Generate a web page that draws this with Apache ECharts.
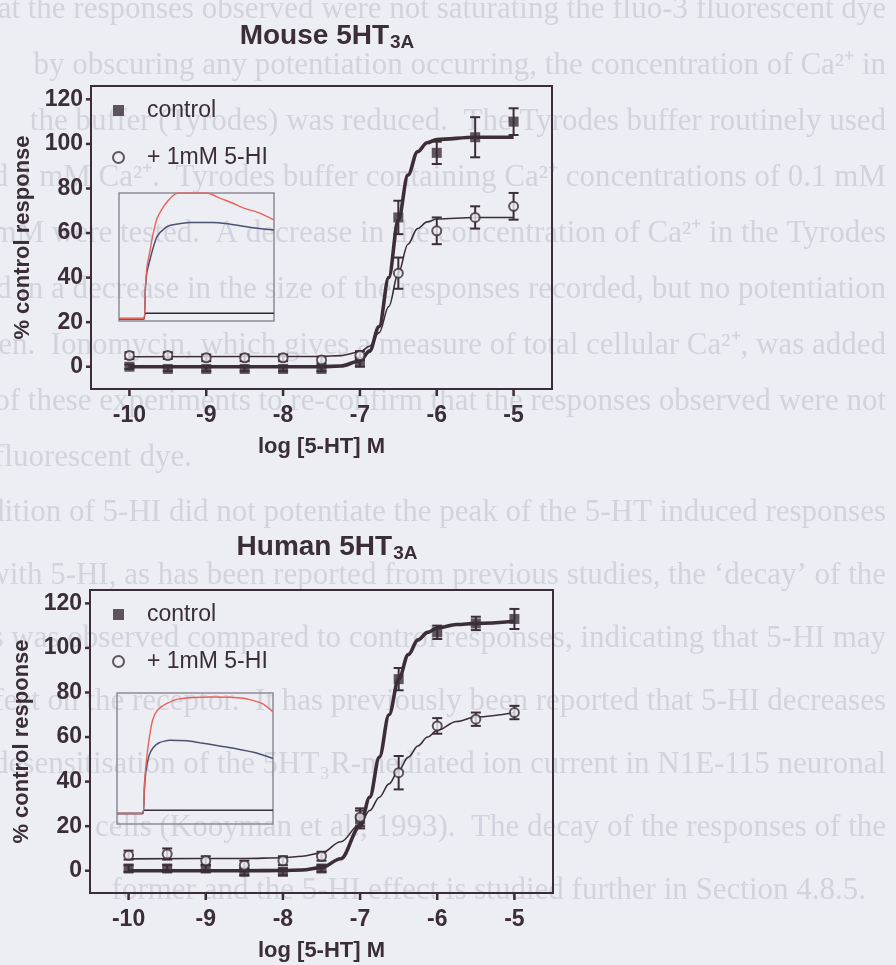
<!DOCTYPE html>
<html><head><meta charset="utf-8">
<script src="https://cdn.jsdelivr.net/npm/echarts@6/dist/echarts.min.js"></script>
<style>html,body{margin:0;padding:0;background:#ededf4;} #c{width:896px;height:965px;}</style>
</head><body><div id="c"></div><script>
// ---------- data ----------
const doses = [-10, -9.5, -9, -8.5, -8, -7.5, -7, -6.5, -6, -5.5, -5];
const xTicks = [-10, -9, -8, -7, -6, -5];
const yTicks = [0, 20, 40, 60, 80, 100, 120];
const seriesNames = ['control', '+ 1mM 5-HI'];

const mouseControl    = [0, -1, -1, -1, -1, -1, 2, 67, 96, 103, 110];
const mouseControlErr = [1, 1, 1, 1, 1, 1, 2, 7.5, 5, 9, 6];
const mouseHI         = [5, 5, 4, 4, 4, 3, 5, 42, 61, 67, 72];
const mouseHIErr      = [1.5, 1.5, 1.5, 1.5, 1.5, 1.5, 2, 7, 6, 5, 6];

const humanControl    = [1, 1, 1, -0.5, -0.5, 1, 23, 86, 107, 111, 113];
const humanControlErr = [1.5, 1.5, 1.5, 1.5, 1.5, 1.5, 4, 5, 3, 3, 4.5];
const humanHI         = [7, 7.5, 4.5, 2.5, 4.5, 6.5, 24, 44, 65, 68, 71];
const humanHIErr      = [2, 2.5, 2, 2, 2, 2, 4, 7.5, 3.5, 3, 3];

// fitted curves
const mouseCurveX       = [-10, -7.5, -7.25, -7, -6.875, -6.75, -6.625, -6.5, -6.375, -6.25, -6.125, -6, -5.5, -5];
const mouseControlCurve = [0, 0, 0.3, 2.6, 7, 18, 40, 66, 86, 96.5, 100.5, 102, 103, 103];
const mouseHICurve      = [4.5, 4.6, 5, 6.6, 9.2, 15.3, 27, 42, 55, 62, 65, 66.3, 67, 67];
const humanCurveX       = [-10, -8.5, -8, -7.75, -7.5, -7.25, -7, -6.875, -6.75, -6.625, -6.5, -6.375, -6.25, -6.125, -6, -5.75, -5.5, -5];
const humanControlCurve = [0, 0, 0.1, 0.3, 1.4, 5.4, 20, 33, 51, 70, 86, 97, 103.6, 107, 109, 110.5, 111, 112];
const humanHICurve      = [5.3, 5.5, 5.8, 6.5, 8, 13, 21, 27, 33, 39, 45, 51, 56, 60, 63, 67, 69, 71];

// inset traces (time in % of window, response in % of inset height)
const mouseRedT   = [0, 16, 17, 18, 20, 22, 24.5, 28, 31.6, 35, 38, 57, 65, 73.5, 81, 89, 95, 100];
const mouseRed    = [2, 2, 25, 42, 55, 68, 80, 88, 94, 98, 100, 100, 96, 92, 88, 85, 82, 79];
const mouseBlueT  = [0, 16, 17, 18, 20, 22, 24.5, 30, 34, 46, 60, 70, 83, 92, 100];
const mouseBlue   = [2, 2, 25, 38, 48, 57, 66, 73, 75, 77, 77, 76, 73.5, 72, 71];
const mouseFlatT  = [0, 16, 17, 100];
const mouseFlat   = [1.5, 1.5, 6, 6];
const humanRedT   = [0, 16.5, 17.5, 19, 21, 23, 26, 32, 40, 60, 81, 93, 100];
const humanRed    = [8, 8, 30, 50, 68, 80, 87, 92, 95.5, 97, 96, 92, 85.5];
const humanBlueT  = [0, 16.5, 17.5, 18.5, 20.5, 23, 27, 34, 45, 53, 64, 74, 90, 100];
const humanBlue   = [8, 8, 25, 40, 52, 58, 62, 64, 63.5, 62, 60, 58, 54, 50];
const humanFlatT  = [0, 16.5, 17, 100];
const humanFlat   = [8, 8, 10.5, 10.5];

// faint page text behind the figure (scanned thesis page)
const pageTextTop = [
  'that the responses observed were not saturating the fluo-3 fluorescent dye',
  'by obscuring any potentiation occurring, the concentration of Ca\u00B2\u207A in',
  'the buffer (Tyrodes) was reduced.  The Tyrodes buffer routinely used',
  'contained 2 mM Ca\u00B2\u207A.  Tyrodes buffer containing Ca\u00B2\u207A concentrations of 0.1 mM',
  'and 1 mM were tested.  A decrease in the concentration of Ca\u00B2\u207A in the Tyrodes',
  'resulted in a decrease in the size of the responses recorded, but no potentiation',
  'was seen.  Ionomycin, which gives a measure of total cellular Ca\u00B2\u207A, was added',
  'at the end of these experiments to re-confirm that the responses observed were not',
];
const pageTextTopLast = 'fluorescent dye.';
const pageTextBottom = [
  'The addition of 5-HI did not potentiate the peak of the 5-HT induced responses',
  'However, with 5-HI, as has been reported from previous studies, the \u2018decay\u2019 of the',
  'responses was observed compared to control responses, indicating that 5-HI may',
  'have an effect on the receptor.  It has previously been reported that 5-HI decreases',
  'the rate of desensitisation of the 5HT\u2083R-mediated ion current in N1E-115 neuronal',
  'cells (Kooyman et al., 1993).  The decay of the responses of the',
  'former and the 5-HI effect is studied further in Section 4.8.5.'
];

// ---------- styling ----------
const INK = '#3b2e37';
const BG = '#ededf4';
const PAGE_INK = '#d3d3dd';
const FONT = '"Liberation Sans", Arial, sans-serif';
const PAGE_FONT = '31px "Liberation Serif", "Times New Roman", serif';
const X_MIN = -10.5, X_MAX = -4.5, Y_MIN = -10, Y_MAX = 126;

const chart = echarts.init(document.getElementById('c'), null, {renderer: 'canvas'});

function pairs(xs, ys) { return xs.map((x, i) => [x, ys[i]]); }
function errData(xs, ys, es) { return xs.map((x, i) => [x, ys[i] - es[i], ys[i] + es[i]]); }

function errSeries(idx, ys, es) {
  return {
    type: 'custom', name: 'err', xAxisIndex: idx, yAxisIndex: idx, z: 3,
    data: errData(doses, ys, es),
    encode: {x: 0, y: [1, 2]},
    renderItem: function (params, api) {
      const x = api.value(0);
      const p1 = api.coord([x, api.value(1)]);
      const p2 = api.coord([x, api.value(2)]);
      const w = 5;
      const st = {stroke: INK, lineWidth: 2};
      return {type: 'group', children: [
        {type: 'line', shape: {x1: p1[0], y1: p1[1], x2: p2[0], y2: p2[1]}, style: st},
        {type: 'line', shape: {x1: p1[0] - w, y1: p1[1], x2: p1[0] + w, y2: p1[1]}, style: st},
        {type: 'line', shape: {x1: p2[0] - w, y1: p2[1], x2: p2[0] + w, y2: p2[1]}, style: st}
      ]};
    }
  };
}
// axis tick marks, placed through the axis scales
function xTickSeries(idx) {
  return {type: 'custom', name: 'xticks', xAxisIndex: idx, yAxisIndex: idx, z: 5, silent: true, clip: false,
    data: xTicks.map(v => [v, Y_MIN]), encode: {x: 0, y: 1},
    renderItem: function (params, api) {
      const p = api.coord([api.value(0), Y_MIN]);
      return {type: 'line', shape: {x1: p[0], y1: p[1], x2: p[0], y2: p[1] + 7}, style: {stroke: INK, lineWidth: 2.5}};
    }};
}
function yTickSeries(idx) {
  return {type: 'custom', name: 'yticks', xAxisIndex: idx, yAxisIndex: idx, z: 5, silent: true, clip: false,
    data: yTicks.map(v => [X_MIN, v]), encode: {x: 0, y: 1},
    renderItem: function (params, api) {
      const p = api.coord([X_MIN, api.value(1)]);
      return {type: 'line', shape: {x1: p[0], y1: p[1], x2: p[0] - 5, y2: p[1]}, style: {stroke: INK, lineWidth: 2.5}};
    }};
}
function curveSeries(idx, xs, ys, w) {
  return {type: 'line', xAxisIndex: idx, yAxisIndex: idx, data: pairs(xs, ys), showSymbol: false,
    smooth: 0.35, smoothMonotone: 'x', lineStyle: {color: INK, width: w}, z: 2, silent: true};
}
function scatterSeries(idx, name, ys, isSquare) {
  return {type: 'scatter', name: name, xAxisIndex: idx, yAxisIndex: idx, z: 4,
    data: pairs(doses, ys),
    symbol: isSquare ? 'rect' : 'circle',
    symbolSize: isSquare ? 10 : 9,
    itemStyle: isSquare ? {color: INK} : {color: BG, borderColor: INK, borderWidth: 2}};
}
function traceSeries(idx, ts, vs, color, w) {
  return {type: 'line', xAxisIndex: idx, yAxisIndex: idx, data: pairs(ts, vs), showSymbol: false,
    smooth: 0.2, lineStyle: {color: color, width: w}, silent: true, z: 1};
}

function xAxisMain(gi) {
  return {type: 'value', gridIndex: gi, min: X_MIN, max: X_MAX, position: 'bottom',
    name: 'log [5-HT] M', nameLocation: 'middle', nameGap: 47,
    nameTextStyle: {fontFamily: FONT, fontSize: 22, fontWeight: 'bold', color: INK},
    axisLine: {show: true, onZero: false, lineStyle: {color: INK, width: 2}}, splitLine: {show: false},
    axisTick: {show: false},
    axisLabel: {customValues: xTicks, margin: 15, fontFamily: FONT, fontSize: 23, fontWeight: 'bold', color: INK,
      formatter: v => String(v)}};
}
function yAxisMain(gi) {
  return {type: 'value', gridIndex: gi, min: Y_MIN, max: Y_MAX, position: 'left',
    name: '% control response', nameLocation: 'middle', nameGap: 57,
    nameTextStyle: {fontFamily: FONT, fontSize: 22, fontWeight: 'bold', color: INK},
    axisLine: {show: true, onZero: false, lineStyle: {color: INK, width: 2}}, splitLine: {show: false},
    axisTick: {show: false},
    axisLabel: {customValues: yTicks, margin: 8, fontFamily: FONT, fontSize: 23, fontWeight: 'bold', color: INK}};
}
function insetAxisX(gi) { return {type: 'value', gridIndex: gi, min: 0, max: 100, show: false}; }
function insetAxisY(gi) { return {type: 'value', gridIndex: gi, min: 0, max: 100, show: false}; }

function legendAt(top) {
  return {orient: 'vertical', left: 112, top: top, itemWidth: 11, itemHeight: 11, itemGap: 24,
    data: seriesNames, selectedMode: false, padding: 0,
    textStyle: {fontFamily: FONT, fontSize: 23, color: INK, padding: [0, 0, 0, 18]}};
}
function titleAt(top, name) {
  return {text: '{m|' + name + ' 5HT}{s|3A}', left: 322, top: top, textAlign: 'center',
    textStyle: {rich: {
      m: {fontFamily: FONT, fontSize: 28, fontWeight: 'bold', color: INK},
      s: {fontFamily: FONT, fontSize: 19, fontWeight: 'bold', color: INK, padding: [13, 0, 0, 1]}
    }}};
}

// page text graphics
const pageGraphics = [];
const lhTop = 56, y0Top = 10;
pageTextTop.forEach((t, i) => pageGraphics.push({type: 'text', x: 886, y: y0Top + i * lhTop, z: -100,
  style: {text: t, align: 'right', verticalAlign: 'middle', font: PAGE_FONT, fill: PAGE_INK}}));
pageGraphics.push({type: 'text', x: -6, y: y0Top + pageTextTop.length * lhTop, z: -100,
  style: {text: pageTextTopLast, align: 'left', verticalAlign: 'middle', font: PAGE_FONT, fill: PAGE_INK}});
const lhBot = 63, y0Bot = 513;
pageTextBottom.forEach((t, i) => pageGraphics.push({type: 'text', x: i === pageTextBottom.length - 1 ? 866 : 886, y: y0Bot + i * lhBot, z: -100,
  style: {text: t, align: 'right', verticalAlign: 'middle', font: PAGE_FONT, fill: PAGE_INK}}));

const option = {
  backgroundColor: BG,
  animation: false,
  title: [titleAt(15, 'Mouse'), titleAt(526, 'Human')],
  legend: [legendAt(99), legendAt(603)],
  graphic: {elements: pageGraphics},
  grid: [
    {left: 91, top: 86, width: 461, height: 303, show: true, borderColor: INK, borderWidth: 2, backgroundColor: 'transparent'},
    {left: 90, top: 590, width: 463, height: 303, show: true, borderColor: INK, borderWidth: 2, backgroundColor: 'transparent'},
    {left: 119, top: 193, width: 155, height: 128, show: true, borderColor: '#8e8b94', borderWidth: 1.5, backgroundColor: 'transparent'},
    {left: 117, top: 693, width: 156, height: 131, show: true, borderColor: '#8e8b94', borderWidth: 1.5, backgroundColor: 'transparent'}
  ],
  xAxis: [xAxisMain(0), xAxisMain(1), insetAxisX(2), insetAxisX(3)],
  yAxis: [yAxisMain(0), yAxisMain(1), insetAxisY(2), insetAxisY(3)],
  series: [
    traceSeries(2, mouseFlatT, mouseFlat, '#2e2a30', 1.4),
    traceSeries(2, mouseBlueT, mouseBlue, '#4a5270', 1.5),
    traceSeries(2, mouseRedT, mouseRed, '#e8625a', 1.4),
    traceSeries(3, humanFlatT, humanFlat, '#3a2f40', 1.4),
    traceSeries(3, humanBlueT, humanBlue, '#4a5270', 1.5),
    traceSeries(3, humanRedT, humanRed, '#e8625a', 1.4),

    xTickSeries(0), yTickSeries(0), xTickSeries(1), yTickSeries(1),

    curveSeries(0, mouseCurveX, mouseControlCurve, 3.6),
    curveSeries(0, mouseCurveX, mouseHICurve, 1.6),
    errSeries(0, mouseControl, mouseControlErr),
    errSeries(0, mouseHI, mouseHIErr),
    scatterSeries(0, 'control', mouseControl, true),
    scatterSeries(0, '+ 1mM 5-HI', mouseHI, false),

    curveSeries(1, humanCurveX, humanControlCurve, 3.6),
    curveSeries(1, humanCurveX, humanHICurve, 1.6),
    errSeries(1, humanControl, humanControlErr),
    errSeries(1, humanHI, humanHIErr),
    scatterSeries(1, 'control', humanControl, true),
    scatterSeries(1, '+ 1mM 5-HI', humanHI, false)
  ]
};
chart.setOption(option);
</script></body></html>
